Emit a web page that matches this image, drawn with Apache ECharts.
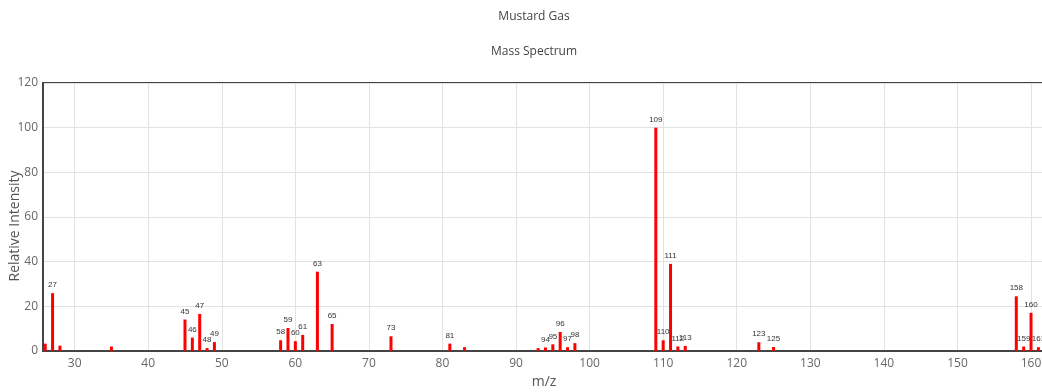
<!DOCTYPE html>
<html>
<head>
<meta charset="utf-8">
<script src="https://cdn.jsdelivr.net/npm/echarts@6/dist/echarts.min.js"></script>
<style>html,body{margin:0;padding:0;background:#fff;}#c{width:1042px;height:392px;}</style>
</head>
<body>
<div id="c"></div>
<script>
// m/z values and relative intensities
var mz = [26, 27, 28, 35, 45, 46, 47, 48, 49, 58, 59, 60, 61, 63, 65, 73, 81, 83,
          93, 94, 95, 96, 97, 98, 109, 110, 111, 112, 113, 123, 125, 158, 159, 160, 161];
var intensity = [3.3, 25.9, 2.4, 2.0, 14.1, 6.0, 16.6, 1.3, 4.0, 4.8, 10.3, 4.4, 7.2, 35.5, 12.1, 6.6, 3.3, 1.7,
          1.3, 1.6, 3.0, 8.5, 1.7, 3.5, 100, 4.8, 39.0, 2.0, 2.3, 3.9, 1.8, 24.5, 2.0, 17.1, 1.7];
var labeledPeaks = [27, 45, 46, 47, 48, 49, 58, 59, 60, 61, 63, 65, 73, 81, 94, 95, 96, 97, 98,
          109, 110, 111, 112, 113, 123, 125, 158, 159, 160, 161];
var yTicks = [0, 20, 40, 60, 80, 100, 120];

var data = mz.map(function (m, i) {
  return {
    value: [m, intensity[i]],
    label: { show: labeledPeaks.indexOf(m) >= 0 }
  };
});

var chart = echarts.init(document.getElementById('c'), null, { renderer: 'canvas' });
chart.setOption({
  animation: false,
  title: [
    { text: 'Mustard Gas', left: 529, top: 6, textAlign: 'center',
      textStyle: { fontSize: 12, fontWeight: 'normal', color: '#444', fontFamily: 'Open Sans' } },
    { text: 'Mass Spectrum', left: 529, top: 41, textAlign: 'center',
      textStyle: { fontSize: 12, fontWeight: 'normal', color: '#444', fontFamily: 'Open Sans' } }
  ],
  grid: { left: 43, right: -3, top: 83, bottom: 41, outerBoundsMode: 'none', containLabel: false,
          show: true, borderColor: '#444', borderWidth: 2, backgroundColor: 'transparent' },
  xAxis: {
    type: 'value', min: 25.7, max: 161.9, splitNumber: 14,
    name: 'm/z', nameLocation: 'middle', nameGap: 24, nameMoveOverlap: false,
    nameTextStyle: { fontSize: 14, color: '#555', fontFamily: 'Open Sans' },
    axisLine: { show: true, lineStyle: { color: '#444', width: 2 } },
    axisTick: { show: false },
    axisLabel: { showMinLabel: false, showMaxLabel: false, color: '#666', fontSize: 12, margin: 7, fontFamily: 'Open Sans' },
    splitLine: { show: true, lineStyle: { color: '#e2e2e2', width: 1 } }
  },
  yAxis: {
    type: 'value', min: yTicks[0], max: yTicks[yTicks.length - 1], interval: 20,
    name: 'Relative Intensity', nameLocation: 'middle', nameGap: 21, nameMoveOverlap: false,
    nameTextStyle: { fontSize: 14, color: '#555', fontFamily: 'Open Sans', padding: [0, 18, 0, 0] },
    axisLine: { show: true, lineStyle: { color: '#444', width: 2 } },
    axisTick: { show: false },
    axisLabel: { color: '#666', fontSize: 12, margin: 5, fontFamily: 'Open Sans' },
    splitLine: { show: true, lineStyle: { color: '#e2e2e2', width: 1 } }
  },
  series: [{
    type: 'bar',
    data: data,
    barWidth: 3,
    itemStyle: { color: '#ff0000' },
    label: {
      position: 'top', distance: 4, fontSize: 8, color: '#333', fontFamily: 'Liberation Sans',
      formatter: function (p) { return p.value[0]; }
    }
  }]
});
</script>
</body>
</html>
